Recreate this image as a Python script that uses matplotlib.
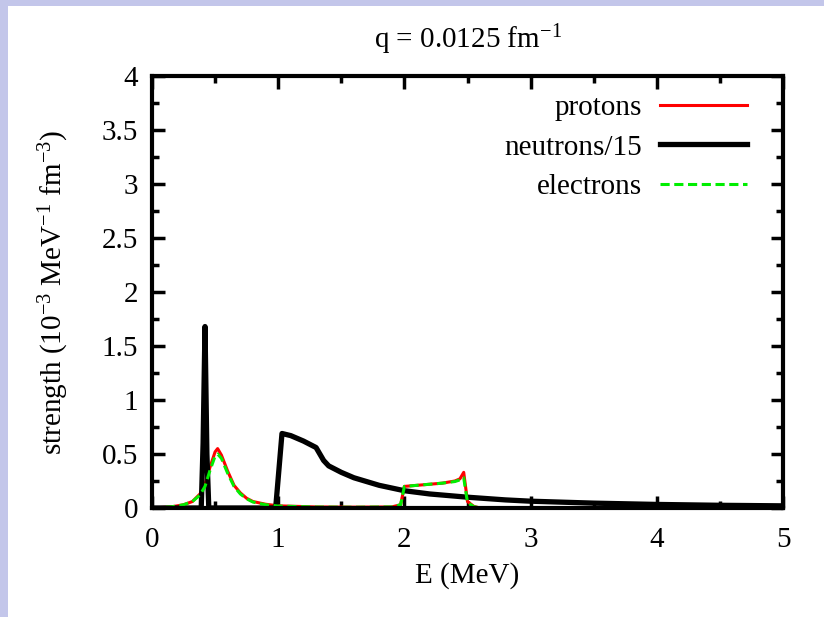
import matplotlib
matplotlib.use("Agg")
import matplotlib.pyplot as plt
from matplotlib.patches import Rectangle
from matplotlib.ticker import MultipleLocator

plt.rcParams['font.family'] = ['Liberation Serif', 'DejaVu Serif']
plt.rcParams['mathtext.default'] = 'regular'

# neutrons/15
e_n = [0.0, 0.39, 0.405, 0.42, 0.435, 0.45, 0.98, 1.03, 1.1, 1.2, 1.3, 1.33, 1.36, 1.4, 1.5,
       1.6, 1.8, 2.0, 2.2, 2.5, 2.8, 3.0, 3.5, 4.0, 4.5, 5.0]
s_n = [0.0, 0.0, 0.6, 1.68, 0.5, 0.0, 0.0, 0.69, 0.67, 0.62, 0.56, 0.5, 0.44, 0.39, 0.33,
       0.28, 0.21, 0.16, 0.13, 0.1, 0.075, 0.063, 0.045, 0.033, 0.025, 0.02]

# protons
e_p = [0.0, 0.15, 0.25, 0.32, 0.38, 0.42, 0.46, 0.5, 0.52, 0.55, 0.6, 0.65, 0.7, 0.75, 0.8, 0.9,
       1.0, 1.3, 1.6, 1.9, 1.97, 2.0, 2.1, 2.2, 2.3, 2.4, 2.44, 2.47, 2.5, 2.55, 2.6, 3.0, 5.0]
s_p = [0.0, 0.01, 0.03, 0.06, 0.13, 0.22, 0.38, 0.52, 0.55, 0.49, 0.34, 0.21, 0.14, 0.09, 0.06, 0.035,
       0.02, 0.01, 0.008, 0.01, 0.03, 0.2, 0.21, 0.22, 0.23, 0.25, 0.27, 0.33, 0.06, 0.015, 0.0, 0.0, 0.0]

# electrons
e_e = e_p
s_e = [0.0, 0.01, 0.03, 0.06, 0.12, 0.2, 0.35, 0.48, 0.5, 0.46, 0.32, 0.2, 0.13, 0.085, 0.055, 0.03,
       0.018, 0.009, 0.007, 0.01, 0.03, 0.2, 0.21, 0.22, 0.23, 0.245, 0.26, 0.28, 0.05, 0.012, 0.0, 0.0, 0.0]

fig = plt.figure(figsize=(8.24, 6.17), dpi=100)
fig.patch.set_facecolor('#c3c6ea')
fig.add_artist(Rectangle((8 / 824, 0), 1, 1 - 6 / 617, transform=fig.transFigure,
                         facecolor='white', edgecolor='none', zorder=-1))

fs = 21
ax = fig.add_axes([152 / 824, 109 / 617, 631 / 824, 432 / 617])
ax.plot(e_p, s_p, color='red', lw=2.2, label='protons')
ax.plot(e_n, s_n, color='black', lw=3.8, label='neutrons/15')
ax.plot(e_e, s_e, color='#00ee00', lw=2.2, ls=(0, (3, 1.5)), label='electrons')

ax.set_xlim(0, 5)
ax.set_ylim(0, 4)
ax.xaxis.set_major_locator(MultipleLocator(1))
ax.xaxis.set_minor_locator(MultipleLocator(0.5))
ax.yaxis.set_minor_locator(MultipleLocator(0.25))
ax.set_yticks([0, 0.5, 1, 1.5, 2, 2.5, 3, 3.5, 4])
ax.set_yticklabels(['0', '0.5', '1', '1.5', '2', '2.5', '3', '3.5', '4'])
ax.tick_params(which='both', direction='in', top=True, right=True, labelsize=fs, width=2.5)
ax.tick_params(which='major', length=9)
ax.tick_params(axis='x', which='major', pad=14)
ax.tick_params(axis='y', which='major', pad=10)
ax.tick_params(which='minor', length=5)
for sp in ax.spines.values():
    sp.set_linewidth(3)

ax.set_xlabel('E (MeV)', fontsize=fs, labelpad=6)
ax.set_ylabel('strength (10$^{-3}$ MeV$^{-1}$ fm$^{-3}$)', fontsize=fs, labelpad=22)
fig.text(0.5 * (152 + 783) / 824, 1 - 40 / 617, 'q = 0.0125 fm$^{-1}$', fontsize=fs,
         ha='center', va='center')

ax.legend(loc='upper right', bbox_to_anchor=(0.943, 0.957), frameon=False,
          markerfirst=False, fontsize=fs, handlelength=3.0, handletextpad=0.6,
          labelspacing=0.45, borderaxespad=0, borderpad=0)

fig.savefig('out.png', dpi=100)
